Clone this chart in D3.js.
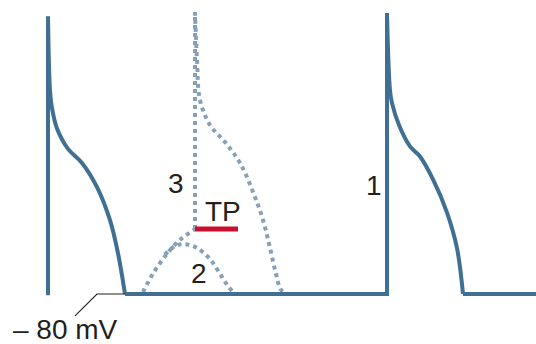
<!DOCTYPE html>
<html>
<head>
<meta charset="utf-8">
<script src="https://cdn.jsdelivr.net/npm/d3@7"></script>
<style>
  html, body { margin: 0; padding: 0; background: #fff; }
  svg { display: block; }
  text { font-family: "Liberation Sans", Arial, sans-serif; fill: #231f20; }
</style>
</head>
<body>
<div id="chart"></div>
<script>
// ----- data: time (a.u.) / membrane potential (mV) -----
const restingMV = -80;
const thresholdMV = -54.5;

// first action potential (solid)
const ap1Up = [[12, -80.5], [12, 29]];
const ap1Down = [[12, 29], [12.5, 0], [13, -7], [14.25, -15], [17, -23], [20.5, -28.5],
                 [24.25, -38], [27.5, -51], [29.5, -64], [31.25, -80]];
// second action potential (solid)
const ap2Down = [[96.75, 30.4], [97.5, 0], [98, -5], [99.75, -13.6], [102.5, -22], [105, -26],
                 [108.25, -35], [111.75, -48], [114.25, -62], [115.75, -80]];
const baseline = [[31.25, -80], [96.75, -80], [96.75, 30.4]];
const tail = [[115.75, -80], [134, -80]];

// dotted curves
const rampToThreshold = [[35.75, -79.2], [38.25, -72], [41.75, -64.2], [45, -58.7], [48.75, thresholdMV]];
const subThreshold = [[41.25, -64.5], [43.75, -61.1], [46.25, -60.4], [49.25, -61.9],
                      [52.5, -66.3], [55, -72.1], [57, -76.9], [58.75, -80]];
const dottedUp = [[48.75, thresholdMV], [48.75, 30.8]];
const dottedDown = [[48.75, 30.8], [49.25, 12], [50, -3.8], [52.5, -13.6], [56.25, -20.3],
                    [60, -28.5], [63.25, -39.9], [65.75, -50.9], [67.5, -61.9], [69, -72.1],
                    [70.25, -78.4], [71.75, -80]];

// threshold potential bar
const tpBar = [[48.75, thresholdMV], [59.5, thresholdMV]];
// leader for the -80 mV label
const leader = [[18.75, -88.6], [24.25, -80], [31.25, -80]];

const labels = [
  {t: 3.25, v: -97.5, text: "– 80 mV"},
  {t: 42, v: -40.5, text: "3"},
  {t: 51.25, v: -51.5, text: "TP"},
  {t: 47.75, v: -75.6, text: "2"},
  {t: 91.5, v: -41.3, text: "1"}
];

// ----- layout -----
const width = 536, height = 344;

const svg = d3.select("#chart").append("svg")
    .attr("width", width)
    .attr("height", height);

const x = d3.scaleLinear().domain([0, 134]).range([0, 536]);
const y = d3.scaleLinear().domain([-80, 30]).range([294, 14]);

const straight = d3.line().x(d => x(d[0])).y(d => y(d[1]));
const smooth = d3.line().x(d => x(d[0])).y(d => y(d[1])).curve(d3.curveCatmullRom.alpha(0.5));

const solidColor = "#3f6f93";
const dotColor = "#86a0b8";

// dotted (drawn first, under the solid baseline)
const dotted = svg.append("g")
    .attr("fill", "none")
    .attr("stroke", dotColor)
    .attr("stroke-width", 4)
    .attr("stroke-dasharray", "4 4");

dotted.append("path").attr("d", smooth(rampToThreshold));
dotted.append("path").attr("d", smooth(subThreshold));
dotted.append("path").attr("d", straight(dottedUp));
dotted.append("path").attr("d", smooth(dottedDown));

// solid trace
const solid = svg.append("g")
    .attr("fill", "none")
    .attr("stroke", solidColor)
    .attr("stroke-width", 4)
    .attr("stroke-linejoin", "miter");

solid.append("path").attr("d", straight(ap1Up));
solid.append("path").attr("d", smooth(ap1Down));
solid.append("path").attr("d", straight(baseline));
solid.append("path").attr("d", smooth(ap2Down));
solid.append("path").attr("d", straight(tail));

// TP bar
svg.append("path")
    .attr("d", straight(tpBar))
    .attr("stroke", "#c8102e")
    .attr("stroke-width", 5)
    .attr("fill", "none");

// leader line
svg.append("path")
    .attr("d", straight(leader))
    .attr("stroke", "#231f20")
    .attr("stroke-width", 1.1)
    .attr("fill", "none");

svg.selectAll("text.lbl")
  .data(labels)
  .join("text")
    .attr("class", "lbl")
    .attr("x", d => x(d.t))
    .attr("y", d => y(d.v))
    .attr("font-size", 28)
    .text(d => d.text);
</script>
</body>
</html>
